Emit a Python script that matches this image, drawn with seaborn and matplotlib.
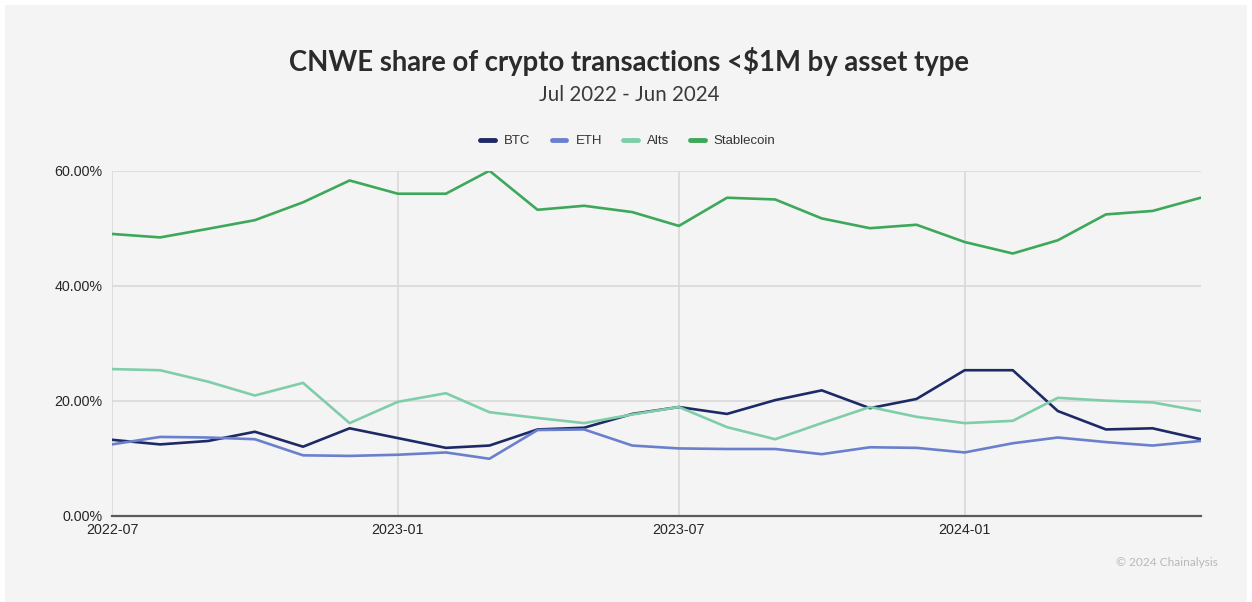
import matplotlib
matplotlib.use("Agg")
import matplotlib.pyplot as plt
import matplotlib.dates as mdates
from matplotlib.patches import Rectangle
from matplotlib.ticker import FuncFormatter
import pandas as pd
import seaborn as sns

# Monthly share (%) of CNWE crypto transactions under $1M, by asset type
months = pd.date_range("2022-07-01", "2024-06-01", freq="MS")
btc = [13.2, 12.4, 13.0, 14.6, 12.0, 15.2, 13.5, 11.8, 12.2, 15.0, 15.3, 17.7,
       18.9, 17.7, 20.1, 21.8, 18.7, 20.3, 25.3, 25.3, 18.2, 15.0, 15.2, 13.3]
eth = [12.4, 13.7, 13.6, 13.3, 10.5, 10.4, 10.6, 11.0, 9.9, 14.9, 15.0, 12.2,
       11.7, 11.6, 11.6, 10.7, 11.9, 11.8, 11.0, 12.6, 13.6, 12.8, 12.2, 13.0]
alts = [25.5, 25.3, 23.3, 20.9, 23.1, 16.1, 19.8, 21.3, 18.0, 17.0, 16.1, 17.6,
        18.9, 15.4, 13.3, 16.1, 18.9, 17.2, 16.1, 16.5, 20.5, 20.0, 19.7, 18.2]
stablecoin = [49.0, 48.4, 49.9, 51.4, 54.5, 58.3, 56.0, 56.0, 60.0, 53.2, 53.9, 52.8,
              50.4, 55.3, 55.0, 51.7, 50.0, 50.6, 47.6, 45.6, 47.9, 52.4, 53.0, 55.3]

series_names = ["BTC", "ETH", "Alts", "Stablecoin"]
palette = {"BTC": "#1e2a66", "ETH": "#6a80cc", "Alts": "#80cda9", "Stablecoin": "#3ea85a"}
xtick_dates = pd.to_datetime(["2022-07-01", "2023-01-01", "2023-07-01", "2024-01-01"])

df = pd.DataFrame({"month": months, "BTC": btc, "ETH": eth, "Alts": alts,
                   "Stablecoin": stablecoin})
long = df.melt(id_vars="month", value_vars=series_names,
               var_name="asset", value_name="share")

sns.set_theme(style="white")
plt.rcParams["font.family"] = ["Liberation Sans", "DejaVu Sans"]

bg = "#f4f4f4"
fig = plt.figure(figsize=(12.52, 6.02), dpi=100, facecolor="white")
fig.patches.append(Rectangle((5 / 1252, 0), 1242 / 1252, 597 / 602,
                             transform=fig.transFigure, facecolor=bg,
                             edgecolor="none", zorder=-10))

ax = fig.add_axes([112 / 1252, 1 - 515.7 / 602, (1200.7 - 112) / 1252, (515.7 - 170.7) / 602])
ax.set_facecolor(bg)

sns.lineplot(data=long, x="month", y="share", hue="asset", hue_order=series_names,
             palette=palette, linewidth=1.9, ax=ax, legend=False)

ax.set_xlim(months[0], months[-1])
ax.set_ylim(0, 60)
ax.set_yticks([0, 20, 40, 60])
ax.yaxis.set_major_formatter(FuncFormatter(lambda v, _: f"{v:.2f}%"))
ax.set_xticks(xtick_dates)
ax.xaxis.set_major_formatter(mdates.DateFormatter("%Y-%m"))

ax.grid(True, color="#d9d9d9", linewidth=1.2)
ax.set_axisbelow(True)
for side in ["top", "right", "left"]:
    ax.spines[side].set_visible(False)
ax.spines["bottom"].set_color("#5a5a5a")
ax.spines["bottom"].set_linewidth(1.6)
ax.spines["bottom"].set_zorder(5)

ax.tick_params(axis="both", length=0, labelsize=10.3, colors="#262626")
ax.tick_params(axis="y", pad=7)
ax.tick_params(axis="x", pad=5)
for lbl in ax.get_yticklabels() + ax.get_xticklabels():
    lbl.set_fontweight("medium")
ax.set_xlabel("")
ax.set_ylabel("")

# Legend with short thick line handles
handles = [plt.Line2D([], [], color=palette[n], linewidth=3.5) for n in series_names]
fig.legend(handles, series_names, loc="center", bbox_to_anchor=(628 / 1252, 1 - 141 / 602),
           ncol=4, frameon=False, fontsize=9.5, handlelength=1.1, handletextpad=0.7,
           columnspacing=1.6, labelcolor="#333333")

fig.text(629 / 1252, 1 - 61 / 602, "CNWE share of crypto transactions <$1M by asset type",
         ha="center", va="center", fontsize=19.8, fontweight="bold", color="#2b2b2b",
         family=["Lato", "DejaVu Sans"])
fig.text(629 / 1252, 1 - 95 / 602, "Jul 2022 - Jun 2024", ha="center", va="center",
         fontsize=14.8, color="#3a3a3a", family=["Lato", "DejaVu Sans"])
fig.text(1218 / 1252, 1 - 563 / 602, "© 2024 Chainalysis", ha="right", va="center",
         fontsize=8.6, color="#b8b8b8", family=["Lato", "DejaVu Sans"])

fig.savefig("out.png", dpi=100, facecolor=fig.get_facecolor())
